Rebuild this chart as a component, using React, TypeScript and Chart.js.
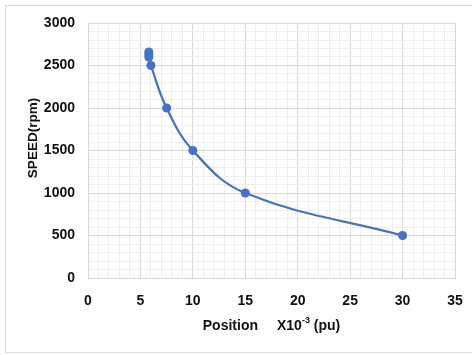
import React, { useEffect, useRef } from "react";
import { Chart, registerables } from "chart.js";

Chart.register(...registerables);

// Speed versus position samples
const positions: number[] = [5.8, 5.8, 5.8, 6, 7.5, 10, 15, 30];
const speeds: number[] = [2660, 2630, 2600, 2500, 2000, 1500, 1000, 500];

const X_MIN = 0;
const X_MAX = 35;
const X_MAJOR = 5;
const Y_MIN = 0;
const Y_MAX = 3000;
const Y_MAJOR = 500;

const Y_TITLE = "SPEED(rpm)";
const X_TITLE_MAIN = "Position";
const X_TITLE_UNIT = "X10";
const X_TITLE_EXP = "-3";
const X_TITLE_TAIL = " (pu)";

const FONT_FAMILY = '"Liberation Sans", Arial, Helvetica, sans-serif';
const LINE_BLUE = "#4472C4";
const MAJOR_GRID = "#d9d9d9";
const MINOR_GRID = "#eeeeee";

const axisTitles = {
  id: "axisTitles",
  afterDraw(chart: any) {
    const { ctx, chartArea } = chart;
    ctx.save();
    ctx.fillStyle = "#111111";
    ctx.textBaseline = "middle";

    // vertical title
    ctx.save();
    ctx.font = `bold 13.5px ${FONT_FAMILY}`;
    ctx.translate(33, 138);
    ctx.rotate(-Math.PI / 2);
    ctx.textAlign = "center";
    ctx.fillText(Y_TITLE, 0, 0);
    ctx.restore();

    // horizontal title with superscript exponent
    const big = `bold 14px ${FONT_FAMILY}`;
    const small = `bold 9px ${FONT_FAMILY}`;
    const gap = 19;
    ctx.font = big;
    const mainW = ctx.measureText(X_TITLE_MAIN).width;
    const unitW = ctx.measureText(X_TITLE_UNIT).width;
    const tailW = ctx.measureText(X_TITLE_TAIL).width;
    ctx.font = small;
    const expW = ctx.measureText(X_TITLE_EXP).width;
    const total = mainW + gap + unitW + expW + tailW;
    const cx = (chartArea.left + chartArea.right) / 2;
    const y = 326;
    let x = cx - total / 2;
    ctx.textAlign = "left";
    ctx.font = big;
    ctx.fillText(X_TITLE_MAIN, x, y);
    x += mainW + gap;
    ctx.fillText(X_TITLE_UNIT, x, y);
    x += unitW;
    ctx.font = small;
    ctx.fillText(X_TITLE_EXP, x, y - 5);
    x += expW;
    ctx.font = big;
    ctx.fillText(X_TITLE_TAIL, x, y);
    ctx.restore();
  },
};

export default function App() {
  const canvasRef = useRef<HTMLCanvasElement | null>(null);

  useEffect(() => {
    document.body.style.margin = "0";
    const canvas = canvasRef.current;
    if (!canvas) return;
    const chart = new Chart(canvas, {
      type: "line",
      data: {
        datasets: [
          {
            data: positions.map((p, i) => ({ x: p, y: speeds[i] })),
            borderColor: LINE_BLUE,
            backgroundColor: LINE_BLUE,
            borderWidth: 2.25,
            pointRadius: 4.5,
            pointBorderWidth: 0,
            pointBackgroundColor: LINE_BLUE,
            tension: 0.4,
            fill: false,
          },
        ],
      },
      options: {
        animation: false,
        responsive: false,
        devicePixelRatio: 1,
        layout: { padding: { top: 23, right: 17, left: 0, bottom: 0 } },
        plugins: {
          legend: { display: false },
          tooltip: { enabled: false },
        },
        scales: {
          x: {
            type: "linear",
            min: X_MIN,
            max: X_MAX,
            ticks: {
              stepSize: 1,
              autoSkip: false,
              maxRotation: 0,
              padding: 15,
              color: "#111111",
              font: { family: FONT_FAMILY, size: 14, weight: "bold" },
              callback: (v: any) => (Number(v) % X_MAJOR === 0 ? String(v) : ""),
            },
            grid: {
              drawTicks: false,
              color: (c: any) =>
                c.tick && c.tick.value % X_MAJOR === 0 ? MAJOR_GRID : MINOR_GRID,
              lineWidth: 1,
            },
            border: { color: MAJOR_GRID },
            afterFit: (s: any) => {
              s.height = 77;
              s.paddingLeft = 0;
              s.paddingRight = 0;
            },
          },
          y: {
            type: "linear",
            min: Y_MIN,
            max: Y_MAX,
            ticks: {
              stepSize: 100,
              autoSkip: false,
              padding: 13,
              color: "#111111",
              font: { family: FONT_FAMILY, size: 14, weight: "bold" },
              callback: (v: any) => (Number(v) % Y_MAJOR === 0 ? String(v) : ""),
            },
            grid: {
              drawTicks: false,
              color: (c: any) =>
                c.tick && c.tick.value % Y_MAJOR === 0 ? MAJOR_GRID : MINOR_GRID,
              lineWidth: 1,
            },
            border: { color: MAJOR_GRID },
            afterFit: (s: any) => {
              s.width = 88;
              s.paddingTop = 0;
              s.paddingBottom = 0;
            },
          },
        },
      },
      plugins: [axisTitles],
    });
    return () => chart.destroy();
  }, []);

  return (
    <div style={{ position: "relative", width: 472, height: 355, background: "#ffffff" }}>
      <canvas ref={canvasRef} width={472} height={355} style={{ display: "block" }} />
      <div
        style={{
          position: "absolute",
          left: 5,
          top: 5,
          width: 468,
          height: 348,
          boxSizing: "border-box",
          border: "1px solid #dddddd",
          pointerEvents: "none",
        }}
      />
    </div>
  );
}
